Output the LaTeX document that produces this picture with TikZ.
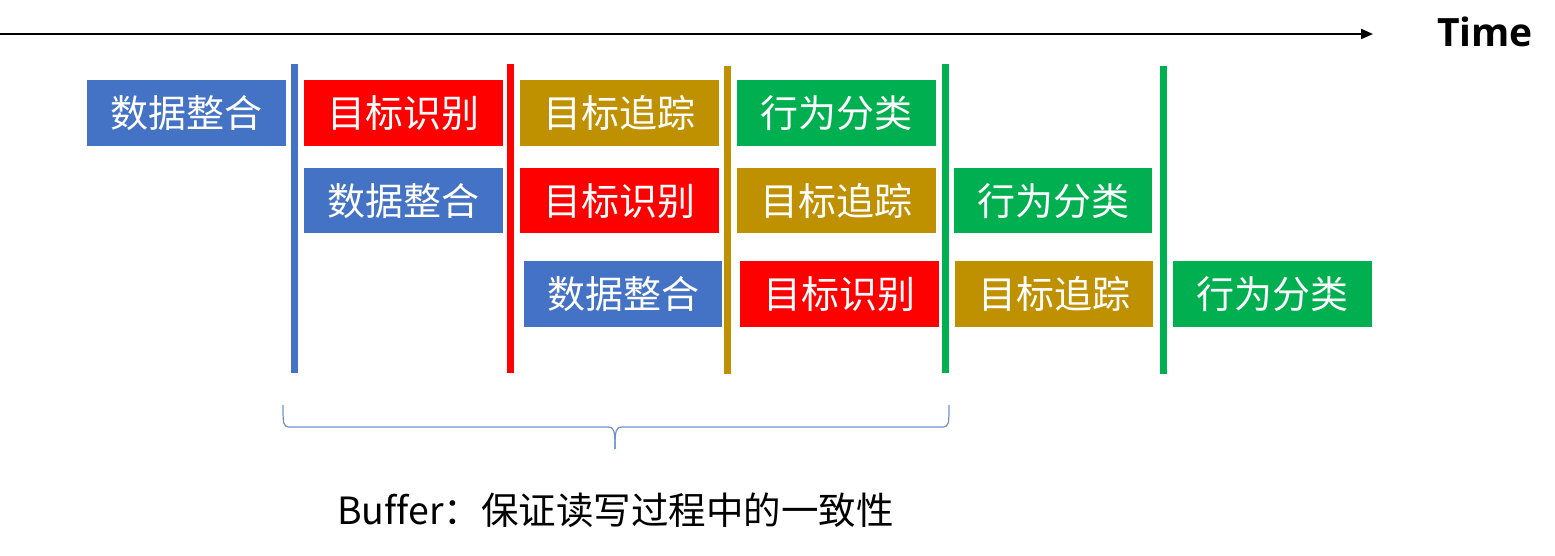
\documentclass[tikz,border=0pt]{standalone}
\usepackage{fontspec}
\setmainfont{Noto Sans CJK SC}[Ligatures=NoCommon]
\newfontfamily\timefont{Open Sans}[BoldFont={* Bold}]
\usetikzlibrary{arrows.meta}
\definecolor{cblue}{HTML}{4472C4}
\definecolor{cred}{HTML}{FF0000}
\definecolor{cgold}{HTML}{BF9000}
\definecolor{cgreen}{HTML}{00B050}
\definecolor{cbrace}{HTML}{6F8FD0}
\tikzset{
  taskbox/.style={anchor=north west, inner sep=0pt, minimum width=199pt, minimum height=66pt,
    text=white, font=\fontsize{38}{40}\selectfont},
  sep/.style={line width=7pt},
}
\begin{document}
\begin{tikzpicture}[x=1pt,y=-1pt]
\useasboundingbox (0,0) rectangle (1555,555);
% time axis
\coordinate (t0) at (0,34);
\coordinate (t1) at (1373,34);
\draw[line width=2pt,-{Triangle[length=12pt,width=10pt]}] (t0) -- (t1);
\node[font=\timefont\bfseries\fontsize{39}{40}\selectfont, anchor=base] (time) at (1485,46) {Time};
% separators
\draw[sep,cblue] (294,64) -- (294,373);
\draw[sep,cred] (510,64) -- (510,373);
\draw[sep,cgold] (727.5,66) -- (727.5,374);
\draw[sep,cgreen] (945,64) -- (945,373);
\draw[sep,cgreen] (1163.5,66) -- (1163.5,374);
% row 1
\node[taskbox,fill=cblue] (r1a) at (87,80) {数据整合};
\node[taskbox,fill=cred] (r1b) at (304,80) {目标识别};
\node[taskbox,fill=cgold] (r1c) at (520,80) {目标追踪};
\node[taskbox,fill=cgreen] (r1d) at (737,80) {行为分类};
% row 2
\node[taskbox,fill=cblue,minimum height=65pt] (r2a) at (304,168) {数据整合};
\node[taskbox,fill=cred,minimum height=65pt] (r2b) at (520,168) {目标识别};
\node[taskbox,fill=cgold,minimum height=65pt] (r2c) at (737,168) {目标追踪};
\node[taskbox,fill=cgreen,minimum height=65pt,minimum width=198pt] (r2d) at (954,168) {行为分类};
% row 3
\node[taskbox,fill=cblue,minimum width=198pt] (r3a) at (524,261) {数据整合};
\node[taskbox,fill=cred] (r3b) at (740,261) {目标识别};
\node[taskbox,fill=cgold,minimum width=198pt] (r3c) at (955,261) {目标追踪};
\node[taskbox,fill=cgreen] (r3d) at (1173,261) {行为分类};
% brace
\draw[cbrace,line width=1.2pt] (283,405) .. controls (283,424) and (283,427) .. (290,427) -- (608,427)
  .. controls (614,427) and (615,430) .. (615,449);
\draw[cbrace,line width=1.2pt] (949,405) .. controls (949,424) and (949,427) .. (942,427) -- (622,427)
  .. controls (616,427) and (615,430) .. (615,449);
\node[font=\fontsize{37.5}{40}\selectfont] (buf) at (615.5,510) {Buffer：保证读写过程中的一致性};
\end{tikzpicture}
\end{document}
